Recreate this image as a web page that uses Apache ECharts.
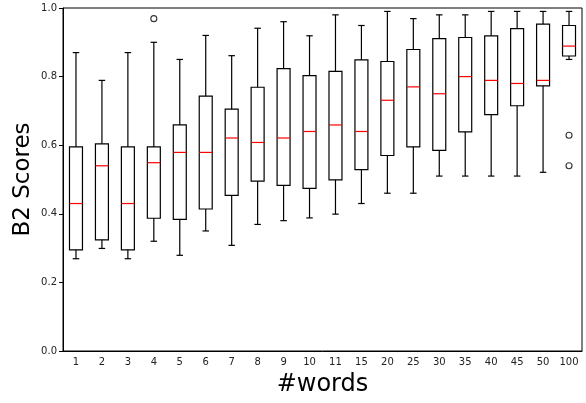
<!DOCTYPE html>
<html>
<head>
<meta charset="utf-8">
<script src="https://cdn.jsdelivr.net/npm/echarts@6/dist/echarts.min.js"></script>
<style>html,body{margin:0;padding:0;background:#fff}#c{width:586px;height:403px}</style>
</head>
<body>
<div id="c"></div>
<script>
var categories = ['1','2','3','4','5','6','7','8','9','10','11','15','20','25','30','35','40','45','50','100'];
var whiskerLow = [0.269,0.299,0.269,0.320,0.279,0.350,0.308,0.369,0.380,0.388,0.399,0.430,0.460,0.460,0.510,0.510,0.510,0.510,0.521,0.850];
var q1 =         [0.295,0.324,0.295,0.387,0.384,0.414,0.454,0.495,0.483,0.474,0.499,0.529,0.570,0.595,0.585,0.639,0.689,0.715,0.773,0.860];
var medians =    [0.430,0.540,0.430,0.549,0.579,0.579,0.621,0.608,0.621,0.640,0.659,0.640,0.731,0.770,0.750,0.800,0.789,0.780,0.789,0.889];
var q3 =         [0.595,0.604,0.595,0.595,0.659,0.743,0.705,0.769,0.823,0.803,0.815,0.849,0.844,0.879,0.911,0.914,0.919,0.940,0.953,0.949];
var whiskerHigh =[0.870,0.789,0.870,0.900,0.850,0.920,0.861,0.941,0.960,0.919,0.980,0.949,0.990,0.969,0.980,0.980,0.990,0.990,0.990,0.990];
var outlierCats = ['4','100','100'];
var outlierVals = [0.969,0.629,0.540];
var yTicks = [0.0,0.2,0.4,0.6,0.8,1.0];

var boxData = categories.map(function(c,i){return [i, whiskerLow[i], q1[i], medians[i], q3[i], whiskerHigh[i]];});
var outData = outlierCats.map(function(c,i){return [categories.indexOf(c), outlierVals[i]];});

var chart = echarts.init(document.getElementById('c'), null, {renderer:'canvas'});
chart.setOption({
  animation:false,
  grid:{left:63,right:4,top:8,bottom:52,show:true,borderColor:'#000',borderWidth:1,backgroundColor:'transparent'},
  xAxis:{
    type:'category', data:categories, boundaryGap:true,
    name:'#words', nameLocation:'middle', nameGap:22, nameMoveOverlap:false,
    nameTextStyle:{fontFamily:'DejaVu Sans',fontSize:24,color:'#000'},
    axisLine:{lineStyle:{color:'#000',width:1}},
    axisTick:{alignWithLabel:true,length:4,lineStyle:{color:'#000'}},
    axisLabel:{fontFamily:'DejaVu Sans',fontSize:10,color:'#222',margin:6},
    splitLine:{show:false}
  },
  yAxis:{
    type:'value', min:0, max:1, interval:0.2,
    name:'B2 Scores', nameLocation:'middle', nameGap:28, nameRotate:90, nameMoveOverlap:false,
    nameTextStyle:{fontFamily:'DejaVu Sans',fontSize:23,color:'#000'},
    axisLine:{show:true,lineStyle:{color:'#000',width:1}},
    axisTick:{show:true,length:4,lineStyle:{color:'#000'}},
    axisLabel:{fontFamily:'DejaVu Sans',fontSize:10,color:'#222',margin:6,
      formatter:function(v){return yTicks.indexOf(+v.toFixed(1))>=0 ? v.toFixed(1) : '';}},
    splitLine:{show:false}
  },
  series:[
    {
      type:'custom',
      data:boxData,
      encode:{x:0,y:[1,2,3,4,5]},
      renderItem:function(params, api){
        var i = api.value(0);
        var band = api.size([1,0])[0];
        var bw = band*0.5, cw = bw*0.5;
        var pLo = api.coord([i, api.value(1)]);
        var pQ1 = api.coord([i, api.value(2)]);
        var pMd = api.coord([i, api.value(3)]);
        var pQ3 = api.coord([i, api.value(4)]);
        var pHi = api.coord([i, api.value(5)]);
        var x = pMd[0];
        var ls = {stroke:'#000',lineWidth:1.2,fill:null};
        return {type:'group',children:[
          {type:'line',shape:{x1:x,y1:pLo[1],x2:x,y2:pQ1[1]},style:ls},
          {type:'line',shape:{x1:x,y1:pQ3[1],x2:x,y2:pHi[1]},style:ls},
          {type:'line',shape:{x1:x-cw/2,y1:pLo[1],x2:x+cw/2,y2:pLo[1]},style:ls},
          {type:'line',shape:{x1:x-cw/2,y1:pHi[1],x2:x+cw/2,y2:pHi[1]},style:ls},
          {type:'rect',shape:{x:x-bw/2,y:pQ3[1],width:bw,height:pQ1[1]-pQ3[1]},style:{stroke:'#000',lineWidth:1.2,fill:'none'}},
          {type:'line',shape:{x1:x-bw/2,y1:pMd[1],x2:x+bw/2,y2:pMd[1]},style:{stroke:'#ff0000',lineWidth:1.2}}
        ]};
      }
    },
    {
      type:'scatter', data:outData, symbol:'circle', symbolSize:6,
      itemStyle:{color:'#fff',borderColor:'#000',borderWidth:1.1}
    }
  ]
});
</script>
</body>
</html>
